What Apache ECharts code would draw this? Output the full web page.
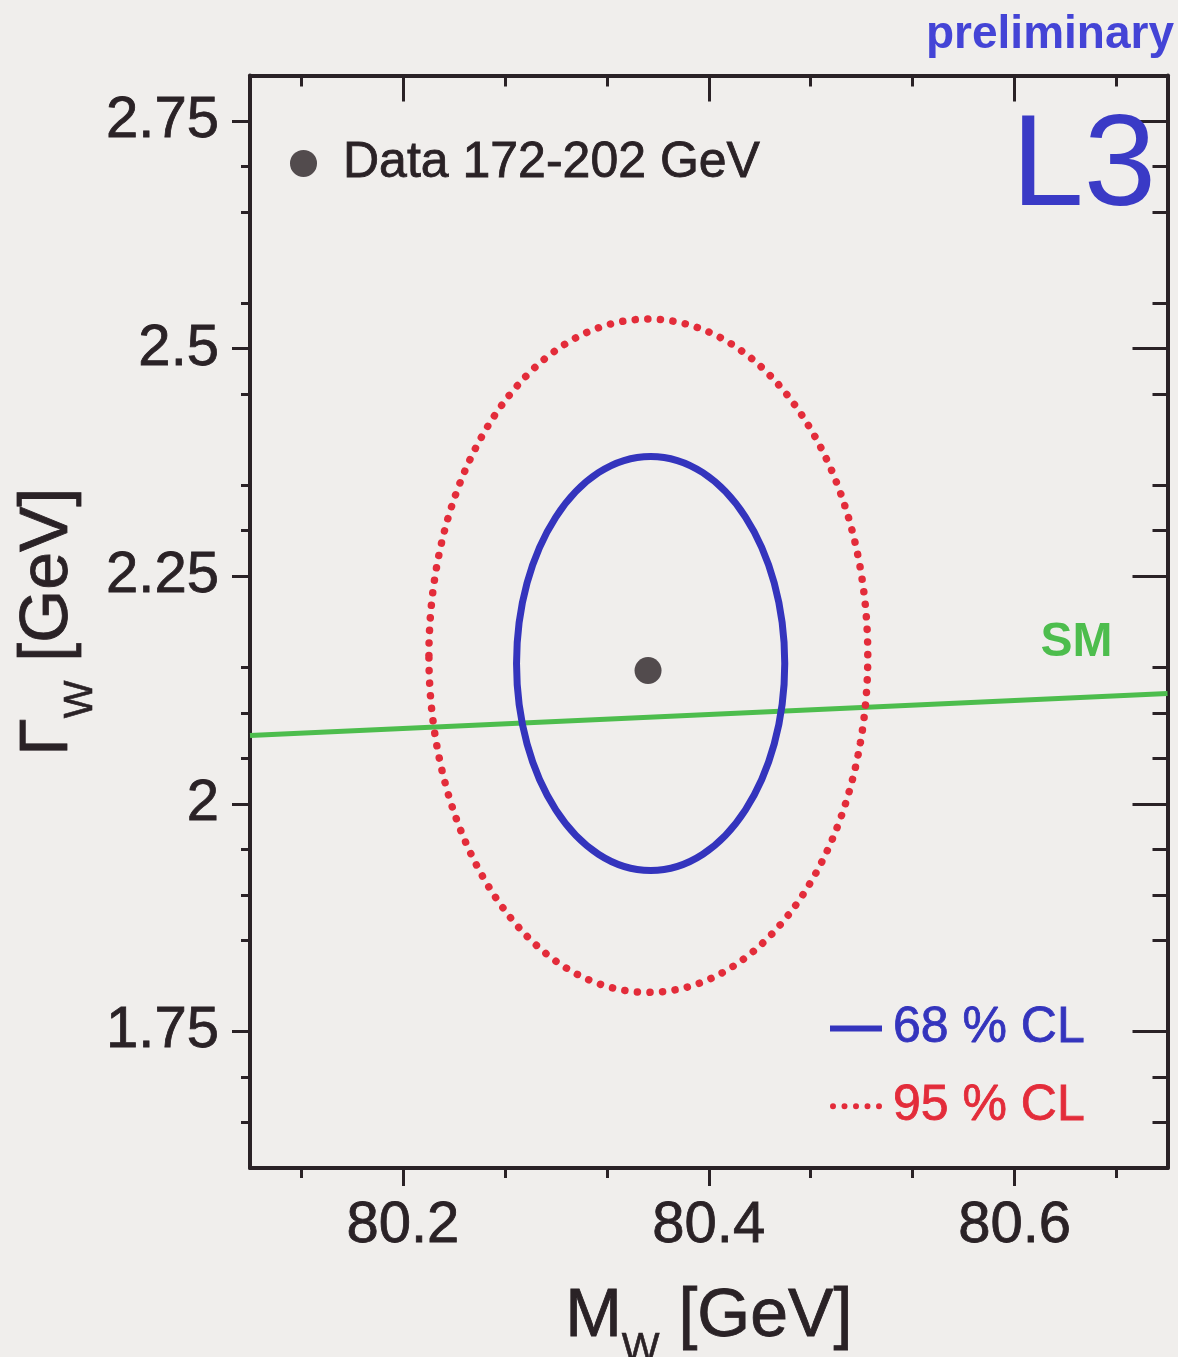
<!DOCTYPE html>
<html>
<head>
<meta charset="utf-8">
<script src="https://cdn.jsdelivr.net/npm/echarts@6/dist/echarts.min.js"></script>
<style>
  html, body { margin: 0; padding: 0; background: #f0eeec; }
  #chart { width: 1178px; height: 1357px; }
</style>
</head>
<body>
<div id="chart"></div>
<script>
// W boson mass and width: measured point, 68 % / 95 % CL contours, SM relation
const massRange = [80.1, 80.7];
const widthRange = [1.6, 2.8];
const massTicks = [80.2, 80.4, 80.6];
const widthTicks = [1.75, 2.0, 2.25, 2.5, 2.75];

const dataPoint = [80.3603, 2.1465];
// contour: [centre mass, centre width, half-extent in mass, half-extent in width]
const contour68 = [80.3620, 2.1542, 0.0877, 0.2274];
const contour95 = [80.3605, 2.1627, 0.1435, 0.3698];
// Standard Model width as a function of mass
const smMass = [80.1, 80.7];
const smWidth = [2.075, 2.1211];

const ink = '#2a2226';
const blue = '#3434bd';
const red = '#e32c3a';
const green = '#4dbd4d';
const labelBlue = '#4444d6';
const font = "'Liberation Sans', Arial, Helvetica, sans-serif";

function axisBase(ticks, minorSplit, inside, majorLen, minorLen) {
  return {
    type: 'value',
    axisLine: { show: true, onZero: false, lineStyle: { color: ink, width: 4 } },
    axisTick: { show: true, inside: inside, length: majorLen, customValues: ticks,
                lineStyle: { color: ink, width: 3 } },
    minorTick: { show: true, splitNumber: minorSplit, length: minorLen,
                 lineStyle: { color: ink, width: 3 } },
    splitLine: { show: false },
    minorSplitLine: { show: false },
    nameMoveOverlap: false
  };
}

const tickFont = { fontSize: 58, lineHeight: 58, color: ink, fontFamily: font,
                   textBorderColor: ink, textBorderWidth: 0.8 };

function massAxis(position, inside, majorLen, minorLen, withLabels) {
  const a = axisBase(massTicks, 3, inside, majorLen, minorLen);
  return Object.assign(a, {
    position: position, min: massRange[0], max: massRange[1], splitNumber: 3,
    axisLabel: Object.assign({ show: withLabels, customValues: massTicks, margin: 29 }, tickFont)
  });
}

function widthAxis(position, inside, majorLen, minorLen, withLabels) {
  const a = axisBase(widthTicks, 4, inside, majorLen, minorLen);
  return Object.assign(a, {
    position: position, min: widthRange[0], max: widthRange[1], splitNumber: 6,
    axisLabel: Object.assign({ show: withLabels, customValues: widthTicks, margin: 31 }, tickFont)
  });
}

const titleRich = {
  m: { fontSize: 68, lineHeight: 74, verticalAlign: 'top', color: ink, fontFamily: font,
       textBorderColor: ink, textBorderWidth: 0.8 },
  s: { fontSize: 40, lineHeight: 87, verticalAlign: 'bottom', color: ink, fontFamily: font,
       textBorderColor: ink, textBorderWidth: 0.6 }
};

const xBottom = massAxis('bottom', false, 18, 10, true);
xBottom.name = '{m|M}{s|W}{m| [GeV]}';
xBottom.nameLocation = 'middle';
xBottom.nameGap = 115;
xBottom.nameTextStyle = { rich: titleRich };

const xTop = massAxis('top', true, 26, 11, false);

const yLeft = widthAxis('left', false, 18, 9, true);
yLeft.name = '{m|Γ}{s|W}{m| [GeV]}';
yLeft.nameLocation = 'middle';
yLeft.nameGap = 149;
yLeft.nameTextStyle = { rich: titleRich };

const yRight = widthAxis('right', true, 35, 15, false);

function contourRenderer(lineWidth, dash) {
  return function (params, api) {
    const c = api.coord([api.value(0), api.value(1)]);
    const r = api.size([api.value(2), api.value(3)]);
    return {
      type: 'ellipse',
      shape: { cx: c[0], cy: c[1], rx: r[0], ry: r[1] },
      style: { fill: 'none', stroke: api.visual('color'), lineWidth: lineWidth,
               lineDash: dash, lineCap: 'round' }
    };
  };
}

const dotsIcon = 'path://M0,3a3,3 0 1,0 6,0a3,3 0 1,0 -6,0' +
  'M11.5,3a3,3 0 1,0 6,0a3,3 0 1,0 -6,0' +
  'M23,3a3,3 0 1,0 6,0a3,3 0 1,0 -6,0' +
  'M34.5,3a3,3 0 1,0 6,0a3,3 0 1,0 -6,0' +
  'M46,3a3,3 0 1,0 6,0a3,3 0 1,0 -6,0';

const legendText = { fontSize: 50, lineHeight: 50, fontFamily: font, textBorderWidth: 0.8 };

const chart = echarts.init(document.getElementById('chart'), null, { renderer: 'canvas' });

chart.setOption({
  backgroundColor: '#f0eeec',
  animation: false,
  textStyle: { fontFamily: font },
  grid: { left: 250, right: 10.5, top: 75.5, bottom: 189, containLabel: false, outerBoundsMode: 'none' },
  xAxis: [xBottom, xTop],
  yAxis: [yLeft, yRight],
  legend: [
    {
      data: [{ name: 'Data 172-202 GeV', icon: 'circle' }],
      left: 290, top: 138, orient: 'vertical', padding: 0,
      itemWidth: 27, itemHeight: 27, selectedMode: false,
      textStyle: Object.assign({ color: ink, textBorderColor: ink, padding: [0, 0, 0, 21] }, legendText)
    },
    {
      data: [
        { name: '68 % CL', icon: 'rect', textStyle: { color: blue, textBorderColor: blue } },
        { name: '95 % CL', icon: dotsIcon, textStyle: { color: red, textBorderColor: red } }
      ],
      left: 830, top: 1003, orient: 'vertical', padding: 0, itemGap: 27,
      itemWidth: 52, itemHeight: 6, selectedMode: false,
      textStyle: Object.assign({ padding: [0, 0, 0, 6] }, legendText)
    }
  ],
  series: [
    {
      type: 'line', name: 'SM',
      data: smMass.map((m, i) => [m, smWidth[i]]),
      symbol: 'none', showSymbol: false,
      lineStyle: { color: green, width: 5 }, itemStyle: { color: green },
      silent: true, z: 2
    },
    {
      type: 'custom', name: '68 % CL', data: [contour68],
      encode: { x: 0, y: 1 },
      itemStyle: { color: blue },
      renderItem: contourRenderer(7, null), silent: true, z: 3
    },
    {
      type: 'custom', name: '95 % CL', data: [contour95],
      encode: { x: 0, y: 1 },
      itemStyle: { color: red },
      renderItem: contourRenderer(7.5, [0.1, 12.5]), silent: true, z: 3
    },
    {
      type: 'scatter', name: 'Data 172-202 GeV', data: [dataPoint],
      symbol: 'circle', symbolSize: 27, itemStyle: { color: ink }, silent: true, z: 5
    }
  ],
  graphic: [
    { type: 'text', x: 1156, y: 169, z: 10,
      style: { text: 'L3', fill: '#3a3ac6', font: '130px ' + font, align: 'right', verticalAlign: 'middle' } },
    { type: 'text', x: 1174, y: 35, z: 10,
      style: { text: 'preliminary', fill: labelBlue, font: 'bold 46px ' + font, align: 'right', verticalAlign: 'middle' } },
    { type: 'text', x: 1076.5, y: 643, z: 10,
      style: { text: 'SM', fill: green, font: 'bold 48px ' + font, align: 'center', verticalAlign: 'middle' } }
  ]
});
</script>
</body>
</html>
